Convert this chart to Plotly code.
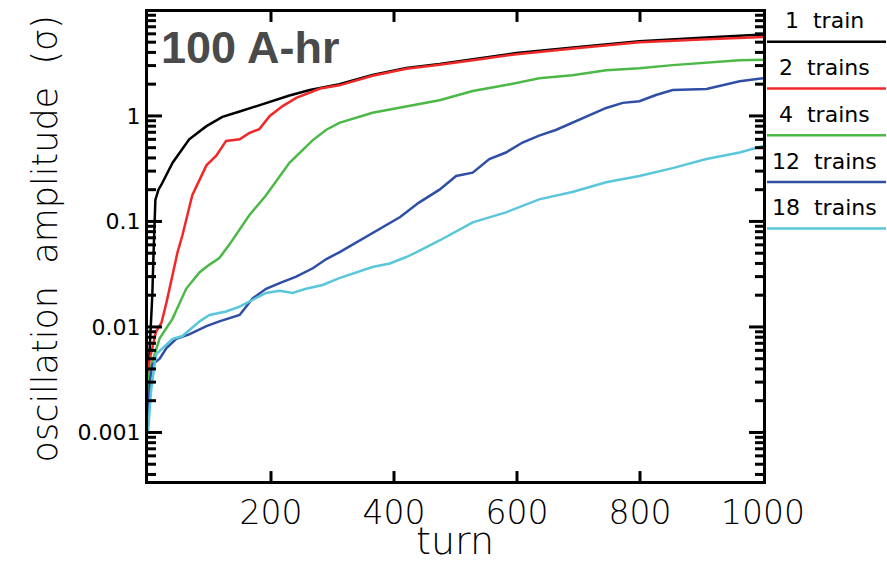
import math
import plotly.graph_objects as go

# ---- data ----
names = ["1  train", "2  trains", "4  trains", "12  trains", "18  trains"]
colors = ["#000000", "#f02828", "#4cb848", "#2f4ea4", "#5ac6da"]

turns_1 = [0, 4, 7, 9, 10, 12, 17, 23, 40, 67, 95, 121, 149, 176, 202, 230, 263, 280, 311, 365, 420, 474, 540, 599, 700, 799, 900, 1000]
amp_1 = [0.003, 0.008, 0.02, 0.05, 0.09, 0.16, 0.2, 0.23, 0.36, 0.6, 0.8, 0.98, 1.1, 1.24, 1.4, 1.56, 1.76, 1.85, 2.0, 2.45, 2.85, 3.1, 3.5, 3.95, 4.5, 5.1, 5.5, 5.9]

turns_2 = [0, 2, 13, 22, 30, 40, 48, 56, 72, 95, 111, 127, 149, 165, 181, 198, 219, 241, 260, 280, 311, 365, 420, 474, 540, 599, 700, 799, 900, 1000]
amp_2 = [0.003, 0.0047, 0.009, 0.011, 0.017, 0.032, 0.051, 0.074, 0.177, 0.34, 0.42, 0.58, 0.6, 0.69, 0.75, 1.0, 1.24, 1.48, 1.65, 1.82, 1.95, 2.4, 2.8, 3.05, 3.45, 3.85, 4.4, 5.0, 5.3, 5.6]

turns_4 = [0, 2, 7, 19, 40, 62, 84, 100, 116, 132, 165, 192, 230, 268, 290, 311, 365, 420, 474, 528, 582, 636, 690, 745, 799, 853, 908, 962, 1000]
amp_4 = [0.002, 0.0036, 0.0047, 0.0078, 0.012, 0.023, 0.033, 0.039, 0.045, 0.06, 0.115, 0.177, 0.36, 0.59, 0.74, 0.86, 1.07, 1.24, 1.41, 1.72, 1.96, 2.28, 2.43, 2.71, 2.83, 3.03, 3.2, 3.37, 3.4]

turns_12 = [0, 3, 7, 19, 30, 46, 67, 95, 116, 149, 170, 192, 214, 241, 268, 290, 311, 360, 410, 440, 474, 501, 528, 555, 582, 609, 636, 664, 690, 718, 745, 772, 799, 826, 853, 908, 934, 962, 1000]
amp_12 = [0.0012, 0.003, 0.0044, 0.005, 0.0063, 0.0077, 0.0085, 0.0102, 0.0113, 0.013, 0.0186, 0.023, 0.026, 0.03, 0.036, 0.044, 0.051, 0.075, 0.11, 0.15, 0.2, 0.27, 0.29, 0.39, 0.45, 0.56, 0.65, 0.74, 0.86, 1.02, 1.19, 1.33, 1.38, 1.58, 1.76, 1.8, 1.96, 2.13, 2.28]

turns_18 = [0, 5, 13, 24, 40, 56, 84, 100, 127, 149, 176, 192, 214, 235, 257, 284, 311, 339, 365, 393, 420, 436, 474, 528, 582, 636, 690, 745, 799, 853, 908, 962, 1000]
amp_18 = [0.001, 0.0025, 0.0055, 0.0063, 0.0077, 0.0082, 0.0113, 0.013, 0.014, 0.0156, 0.0186, 0.021, 0.022, 0.021, 0.023, 0.025, 0.029, 0.033, 0.037, 0.04, 0.046, 0.051, 0.066, 0.098, 0.122, 0.162, 0.19, 0.235, 0.27, 0.32, 0.39, 0.45, 0.52]

x_ticks = [200, 400, 600, 800, 1000]
x_ticklabels = ["200", "400", "600", "800", "1000"]
y_ticks = [0.001, 0.01, 0.1, 1]
y_ticklabels = ["0.001", "0.01", "0.1", "1"]

title_text = "100 A-hr"
x_title = "turn"
y_title = "oscillation\u00a0\u00a0amplitude\u00a0\u00a0(\u03c3)"

series = [(turns_1, amp_1), (turns_2, amp_2), (turns_4, amp_4), (turns_12, amp_12), (turns_18, amp_18)]

FONT = "DejaVu Sans"
X_RANGE = [0, 1000]
Y_RANGE = [-3.46, 0.985]
PLOT_W, PLOT_H = 615, 472

fig = go.Figure()
for (xs, ys), name, col in zip(series, names, colors):
    fig.add_trace(go.Scatter(x=xs, y=ys, mode="lines", name=name,
                             line=dict(color=col, width=2.5), showlegend=False))

fig.update_layout(
    width=887, height=575,
    margin=dict(l=148, r=124, t=9, b=94),
    paper_bgcolor="white", plot_bgcolor="white",
    font=dict(family=FONT, color="black"),
    xaxis=dict(range=X_RANGE, tickmode="array", tickvals=x_ticks, ticktext=x_ticklabels,
               ticks="", showline=True, linecolor="black", linewidth=3, mirror=True,
               showgrid=False, zeroline=False,
               tickfont=dict(family=FONT, size=33, color="black", weight=300)),
    yaxis=dict(type="log", range=Y_RANGE, tickmode="array",
               tickvals=y_ticks, ticktext=y_ticklabels,
               ticks="", showline=True, linecolor="black", linewidth=3, mirror=True,
               showgrid=False, zeroline=False,
               tickfont=dict(family=FONT, size=22, color="black")),
)

# ---- tick marks drawn as paper-space shapes (inside, on all four sides) ----
shapes = []
tick_line = dict(color="black", width=3)


def ypaper(v):
    return (math.log10(v) - Y_RANGE[0]) / (Y_RANGE[1] - Y_RANGE[0])


def xpaper(v):
    return (v - X_RANGE[0]) / (X_RANGE[1] - X_RANGE[0])


minor_vals = [m * 10 ** e for e in range(-4, 1) for m in range(2, 10)]
for vals, length in ((y_ticks, 14), (minor_vals, 8)):
    for v in vals:
        yp = ypaper(v)
        if 0 < yp < 1:
            dx = length / PLOT_W
            shapes.append(dict(type="line", xref="paper", yref="paper",
                               x0=0, x1=dx, y0=yp, y1=yp, line=tick_line))
            shapes.append(dict(type="line", xref="paper", yref="paper",
                               x0=1 - dx, x1=1, y0=yp, y1=yp, line=tick_line))
for v in x_ticks:
    xp = xpaper(v)
    if 0 < xp < 1:
        dy = 10 / PLOT_H
        shapes.append(dict(type="line", xref="paper", yref="paper",
                           x0=xp, x1=xp, y0=0, y1=dy, line=tick_line))
        shapes.append(dict(type="line", xref="paper", yref="paper",
                           x0=xp, x1=xp, y0=1 - dy, y1=1, line=tick_line))

annotations = [
    dict(text="<b>" + title_text + "</b>", xref="paper", yref="paper", x=0.018, y=0.925,
         xanchor="left", yanchor="middle", showarrow=False,
         font=dict(family="Liberation Sans", size=45, color="#4a4a4a")),
    dict(text=x_title, xref="paper", yref="paper", x=0.499, y=-0.127,
         xanchor="center", yanchor="middle", showarrow=False,
         font=dict(family=FONT, size=38, color="black", weight=300)),
    dict(text=y_title, xref="paper", yref="paper", x=-0.1675, y=0.517,
         xanchor="center", yanchor="middle", showarrow=False, textangle=-90,
         font=dict(family=FONT, size=35, color="black", weight=300)),
]

# ---- legend at the right: label above a coloured line ----
step = 47 / PLOT_H
for i, (name, col) in enumerate(zip(names, colors)):
    yline = (481 - 39) / PLOT_H - i * step
    shapes.append(dict(type="line", xref="paper", yref="paper",
                       x0=1.0065, x1=1.2, y0=yline, y1=yline,
                       line=dict(color=col, width=2.5)))
    annotations.append(dict(text=name, xref="paper", yref="paper",
                            x=1.1, y=yline + 21 / PLOT_H, xanchor="center", yanchor="middle",
                            showarrow=False,
                            font=dict(family=FONT, size=22, color="black")))

fig.update_layout(annotations=annotations, shapes=shapes)

fig.write_html("out.html")
